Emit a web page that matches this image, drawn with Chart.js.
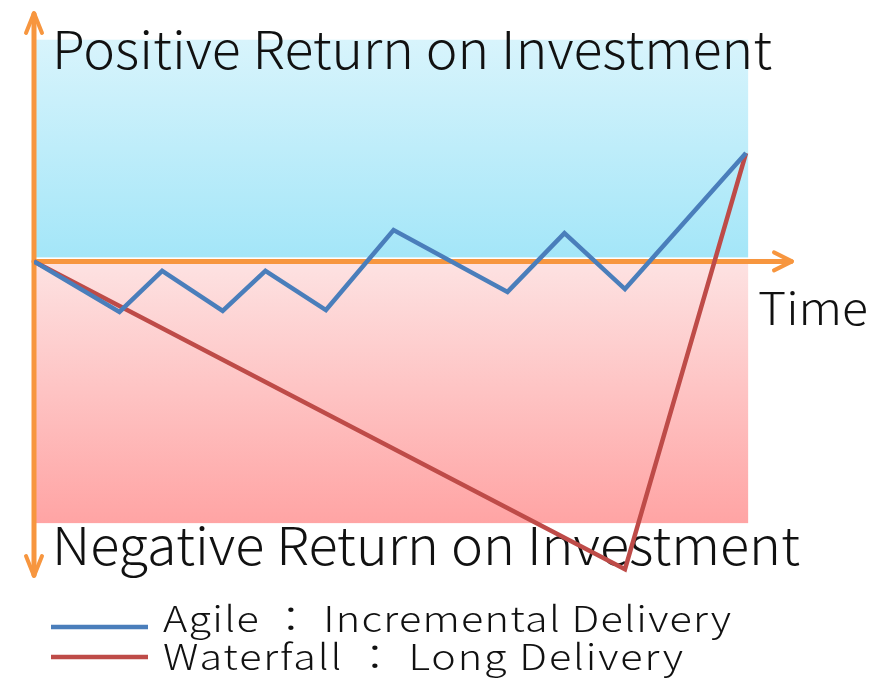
<!DOCTYPE html>
<html>
<head>
<meta charset="utf-8">
<script src="https://cdn.jsdelivr.net/npm/chart.js@4"></script>
<style>
  html, body { margin: 0; padding: 0; background: #ffffff; }
  #wrap { width: 872px; height: 679px; }
</style>
</head>
<body>
<div id="wrap"><canvas id="roi" width="872" height="679"></canvas></div>
<script>
// Time points and return on investment for each delivery approach
const agileTime   = [0, 12, 18, 26.5, 32.5, 41, 50.5, 66.5, 74.5, 83, 100];
const agileReturn = [0, -16.4, -3.1, -16.1, -3.1, -15.8, 10.2, -9.9, 9.2, -9.0, 35.2];
const waterfallTime   = [0, 83, 100];
const waterfallReturn = [0, -100, 35.2];

const seriesLabels = ['Agile \uFF1A Incremental Delivery', 'Waterfall \uFF1A Long Delivery'];
const positiveLabel = 'Positive Return on Investment';
const negativeLabel = 'Negative Return on Investment';
const timeLabel = 'Time';

const ORANGE = '#f7963f';
const BLUE = '#4a7ebb';
const RED = '#be4b48';
const FONT = '"Noto Sans CJK JP", "Noto Sans", sans-serif';

// Shaded regions in value space
const bandRight = 100.3;
const positiveBand = [1.3, 72];
const negativeBand = [-85, -0.3];

function toPoints(xs, ys) { return xs.map((x, i) => ({ x, y: ys[i] })); }

// Draws text widened to a given width: mostly by stretching the glyphs,
// the rest by letter spacing
function fitText(ctx, text, x, baseline, width, size) {
  ctx.save();
  ctx.font = '300 ' + size + 'px ' + FONT;
  ctx.letterSpacing = '0px';
  const natural = ctx.measureText(text).width;
  const n = Array.from(text).length;
  const stretch = Math.min(1.18, width / natural);
  const rest = width / stretch - natural;
  ctx.letterSpacing = (rest / Math.max(1, n - 1)).toFixed(2) + 'px';
  ctx.fillStyle = '#111111';
  ctx.textBaseline = 'alphabetic';
  ctx.textAlign = 'left';
  ctx.translate(x, baseline);
  ctx.scale(stretch, 1);
  ctx.fillText(text, 0, 0);
  ctx.restore();
}

function chevron(ctx, tipX, tipY, dx1, dy1, dx2, dy2) {
  ctx.beginPath();
  ctx.moveTo(tipX + dx1, tipY + dy1);
  ctx.lineTo(tipX, tipY);
  ctx.lineTo(tipX + dx2, tipY + dy2);
  ctx.stroke();
}

const backdrop = {
  id: 'backdrop',
  beforeDatasetsDraw(chart) {
    const { ctx, chartArea: a, scales: { x, y } } = chart;
    const left = x.getPixelForValue(0), right = x.getPixelForValue(bandRight);

    // positive band
    let t = y.getPixelForValue(positiveBand[1]), b = y.getPixelForValue(positiveBand[0]);
    let g = ctx.createLinearGradient(0, t, 0, b);
    g.addColorStop(0, '#d8f4fc');
    g.addColorStop(1, '#a4e6f8');
    ctx.fillStyle = g;
    ctx.fillRect(left, t, right - left, b - t);

    // negative band
    t = y.getPixelForValue(negativeBand[1]); b = y.getPixelForValue(negativeBand[0]);
    g = ctx.createLinearGradient(0, t, 0, b);
    g.addColorStop(0, '#fde2e2');
    g.addColorStop(1, '#ffa4a4');
    ctx.fillStyle = g;
    ctx.fillRect(left, t, right - left, b - t);

    // axes with arrow heads
    const y0 = y.getPixelForValue(0);
    ctx.save();
    ctx.strokeStyle = ORANGE;
    ctx.lineWidth = 5;
    ctx.lineCap = 'round';
    ctx.lineJoin = 'round';
    ctx.beginPath();
    ctx.moveTo(left, a.top + 2);
    ctx.lineTo(left, a.bottom - 2);
    ctx.stroke();
    ctx.beginPath();
    ctx.moveTo(left, y0);
    ctx.lineTo(a.right - 2, y0);
    ctx.stroke();
    ctx.lineWidth = 4;
    chevron(ctx, left, a.top + 1, -8, 20, 8, 20);
    chevron(ctx, left, a.bottom - 1, -8, -20, 8, -20);
    chevron(ctx, a.right - 1, y0, -18, -9, -18, 9);
    ctx.restore();

    // region and axis captions
    fitText(ctx, positiveLabel, 52, 69, 720, 52);
    fitText(ctx, negativeLabel, 52, 565, 748, 52);
    fitText(ctx, timeLabel, 758, 325, 110, 45);

    // legend
    const ds = chart.data.datasets;
    const rows = [627, 657];
    const textBase = [632, 670];
    const widths = [568, 520];
    ds.forEach((d, i) => {
      ctx.save();
      ctx.strokeStyle = d.borderColor;
      ctx.lineWidth = 4.5;
      ctx.beginPath();
      ctx.moveTo(51, rows[i]);
      ctx.lineTo(148, rows[i]);
      ctx.stroke();
      ctx.restore();
      fitText(ctx, d.label, 163, textBase[i], widths[i], 35);
    });
  }
};

new Chart(document.getElementById('roi'), {
  type: 'line',
  data: {
    datasets: [
      {
        label: seriesLabels[0],
        data: toPoints(agileTime, agileReturn),
        borderColor: BLUE,
        borderWidth: 4.5,
        pointRadius: 0,
        tension: 0,
        fill: false
      },
      {
        label: seriesLabels[1],
        data: toPoints(waterfallTime, waterfallReturn),
        borderColor: RED,
        borderWidth: 4.5,
        pointRadius: 0,
        tension: 0,
        fill: false
      }
    ]
  },
  options: {
    responsive: false,
    animation: false,
    layout: { padding: { left: 34, right: 79, top: 12, bottom: 102 } },
    plugins: { legend: { display: false }, tooltip: { enabled: false } },
    scales: {
      x: { type: 'linear', min: 0, max: 106.6, display: false },
      y: { type: 'linear', min: -102.5, max: 81, display: false }
    },
    elements: { line: { borderJoinStyle: 'miter', borderCapStyle: 'butt' } }
  },
  plugins: [backdrop]
});
</script>
</body>
</html>
